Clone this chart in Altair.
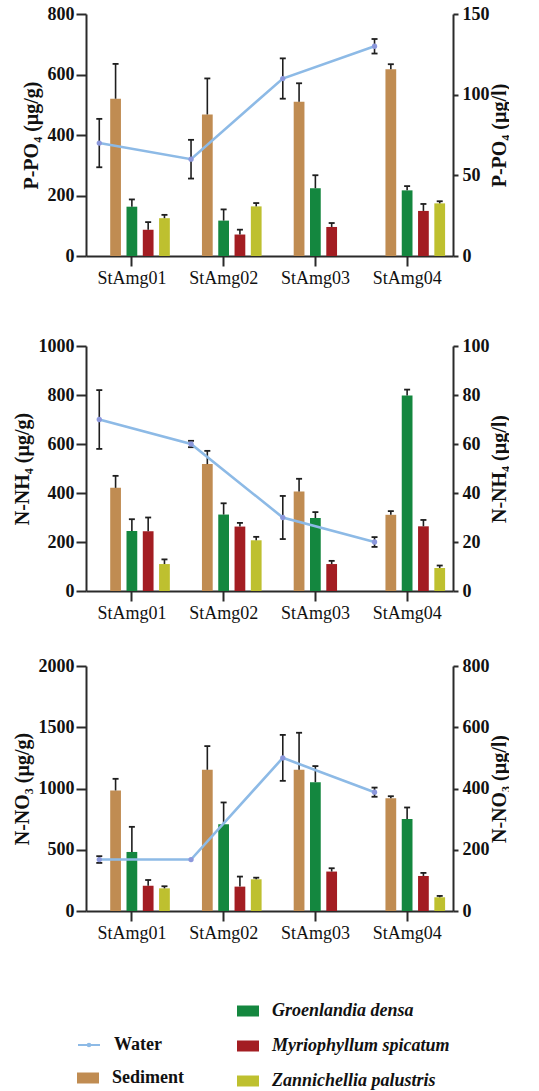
import altair as alt
import pandas as pd

stations = ["StAmg01", "StAmg02", "StAmg03", "StAmg04"]
slots = ["Water", "Sediment", "Groenlandia densa", "Myriophyllum spicatum", "Zannichellia palustris"]
species = ["Groenlandia densa", "Myriophyllum spicatum", "Zannichellia palustris"]

# P-PO4
po4_water = [70, 60, 110, 130]
po4_water_sd = [15, 12, 12.5, 4.5]
po4_sediment = [520, 468, 510, 617]
po4_sediment_sd = [115, 119, 61, 17]
po4_groenlandia = [163, 117, 224, 217]
po4_groenlandia_sd = [24, 37, 43, 14]
po4_myriophyllum = [87, 71, 96, 149]
po4_myriophyllum_sd = [25, 16, 13, 23]
po4_zannichellia = [125, 164, None, 174]
po4_zannichellia_sd = [11, 11, None, 7]

# N-NH4
nh4_water = [70, 60, 30, 20]
nh4_water_sd = [12, 1.3, 8.8, 2]
nh4_sediment = [421, 518, 406, 311]
nh4_sediment_sd = [49, 54, 52, 15]
nh4_groenlandia = [245, 312, 298, 798]
nh4_groenlandia_sd = [48, 46, 24, 24]
nh4_myriophyllum = [244, 263, 110, 264]
nh4_myriophyllum_sd = [56, 15, 13, 26]
nh4_zannichellia = [110, 207, None, 94]
nh4_zannichellia_sd = [19, 14, None, 10]

# N-NO3
no3_water = [168, 168, 500, 388]
no3_water_sd = [11, 0, 75, 15]
no3_sediment = [984, 1153, 1153, 921]
no3_sediment_sd = [95, 193, 302, 16]
no3_groenlandia = [482, 708, 1052, 752]
no3_groenlandia_sd = [205, 178, 131, 93]
no3_myriophyllum = [207, 199, 322, 286]
no3_myriophyllum_sd = [46, 82, 27, 25]
no3_zannichellia = [185, 259, None, 112]
no3_zannichellia_sd = [17, 13, None, 11]

panels = {
    "po4": [(po4_water, po4_water_sd), (po4_sediment, po4_sediment_sd),
            (po4_groenlandia, po4_groenlandia_sd), (po4_myriophyllum, po4_myriophyllum_sd),
            (po4_zannichellia, po4_zannichellia_sd)],
    "nh4": [(nh4_water, nh4_water_sd), (nh4_sediment, nh4_sediment_sd),
            (nh4_groenlandia, nh4_groenlandia_sd), (nh4_myriophyllum, nh4_myriophyllum_sd),
            (nh4_zannichellia, nh4_zannichellia_sd)],
    "no3": [(no3_water, no3_water_sd), (no3_sediment, no3_sediment_sd),
            (no3_groenlandia, no3_groenlandia_sd), (no3_myriophyllum, no3_myriophyllum_sd),
            (no3_zannichellia, no3_zannichellia_sd)],
}

rows = []
for key, series_list in panels.items():
    for name, (vals, sds) in zip(slots, series_list):
        for st, v, s in zip(stations, vals, sds):
            if v is None:
                continue
            rows.append(dict(panel=key, station=st, series=name, value=v, sd=s,
                             top=v + s, low=v - s))
df = pd.DataFrame(rows)

C_SED = "#C08C52"
C_SPC = ["#14873F", "#A31D22", "#BEC02F"]
C_WATER = "#8DBAE6"
C_PT = "#8C98DC"
AX = "#2a2a2a"
EC = "#1e1e1e"
F = "Liberation Serif"

RECT = "M-1,-0.5L1,-0.5L1,0.5L-1,0.5Z"
WPATH = "M-1,0L1,0M-0.12,0A0.12,0.12 0 1,0 0.12,0A0.12,0.12 0 1,0 -0.12,0"

leg_water = alt.Legend(orient="none", legendX=-9, legendY=1019, title=None,
                       symbolType=WPATH, symbolSize=484, symbolStrokeWidth=2,
                       symbolFillColor=C_PT, labelFont=F, labelFontSize=18,
                       labelFontWeight="bold", labelColor="#111", labelOffset=13, padding=0)
leg_sed = alt.Legend(orient="none", legendX=-9, legendY=1053, title=None,
                     symbolType=RECT, symbolSize=484, symbolStrokeWidth=0, symbolOpacity=1,
                     labelFont=F, labelFontSize=18, labelFontWeight="bold",
                     labelColor="#111", labelOffset=13, padding=0)
leg_spc = alt.Legend(orient="none", legendX=151, legendY=986, title=None,
                     symbolType=RECT, symbolSize=484, symbolStrokeWidth=0, symbolOpacity=1,
                     labelFont=F, labelFontSize=18, labelFontWeight="bold",
                     labelFontStyle="italic", labelColor="#111", labelOffset=13,
                     rowPadding=15, padding=0, labelLimit=300)


def make_panel(key, ltitle, rtitle, lmax, lstep, rmax, rstep, h):
    d = df[df.panel == key]
    base = alt.Chart(d)
    x = alt.X("station:N", scale=alt.Scale(domain=stations, paddingInner=0, paddingOuter=0),
              axis=alt.Axis(title=None, labelAngle=0, labelFont=F, labelFontSize=18,
                            labelFontWeight="normal", tickSize=10, labelPadding=3))
    xo = alt.XOffset("series:N", scale=alt.Scale(domain=slots, paddingInner=0.34,
                                                  paddingOuter=0.485))
    lscale = alt.Scale(domain=[0, lmax], nice=False)
    laxis = alt.Axis(orient="left", values=list(range(0, lmax + 1, lstep)), title=ltitle,
                     format="d", labelFontSize=18, labelFontWeight="bold", tickSize=10,
                     labelPadding=2, titlePadding=6, titleFontSize=20, titleFontWeight="bold")
    rscale = alt.Scale(domain=[0, rmax], nice=False)
    raxis = alt.Axis(orient="right", values=list(range(0, rmax + 1, rstep)), title=rtitle,
                     format="d", labelFontSize=18, labelFontWeight="bold", tickSize=5,
                     labelPadding=4, titlePadding=20, titleFontSize=20, titleFontWeight="bold",
                     titleAngle=270)

    sed = base.transform_filter(alt.datum.series == "Sediment")
    spc = base.transform_filter(alt.FieldOneOfPredicate(field="series", oneOf=species))
    notw = base.transform_filter(alt.datum.series != "Water")
    wat = base.transform_filter(alt.datum.series == "Water")

    bar_sed = sed.mark_bar().encode(
        x=x, xOffset=xo, y=alt.Y("value:Q", scale=lscale, axis=laxis),
        color=alt.Color("series:N", scale=alt.Scale(domain=["Sediment"], range=[C_SED]),
                        legend=leg_sed))
    bar_spc = spc.mark_bar().encode(
        x=x, xOffset=xo, y=alt.Y("value:Q", scale=lscale, axis=laxis),
        fill=alt.Fill("series:N", scale=alt.Scale(domain=species, range=C_SPC),
                      legend=leg_spc))
    e_rule = notw.mark_rule(color=EC, strokeWidth=1.6).encode(
        x=x, xOffset=xo, y=alt.Y("value:Q", scale=lscale, axis=laxis), y2="top:Q")
    e_cap = notw.mark_tick(color=EC, thickness=1.8, size=6, opacity=1).encode(
        x=x, xOffset=xo, y=alt.Y("top:Q", scale=lscale, axis=laxis))
    left = alt.layer(bar_sed, bar_spc, e_rule, e_cap)

    watv = wat.transform_filter(alt.datum.sd > 0)
    w_rule = watv.mark_rule(color=EC, strokeWidth=1.6).encode(
        x=x, xOffset=xo, y=alt.Y("low:Q", scale=rscale, axis=raxis), y2="top:Q")
    w_cap1 = watv.mark_tick(color=EC, thickness=1.8, size=6, opacity=1).encode(
        x=x, xOffset=xo, y=alt.Y("top:Q", scale=rscale, axis=raxis))
    w_cap2 = watv.mark_tick(color=EC, thickness=1.8, size=6, opacity=1).encode(
        x=x, xOffset=xo, y=alt.Y("low:Q", scale=rscale, axis=raxis))
    w_line = wat.mark_line(strokeWidth=2.6).encode(
        x=x, xOffset=xo, y=alt.Y("value:Q", scale=rscale, axis=raxis),
        stroke=alt.Stroke("series:N", scale=alt.Scale(domain=["Water"], range=[C_WATER]),
                          legend=leg_water))
    w_pts = wat.mark_circle(size=28, color=C_PT, opacity=1).encode(
        x=x, xOffset=xo, y=alt.Y("value:Q", scale=rscale, axis=raxis))
    right = alt.layer(w_rule, w_cap1, w_cap2, w_line, w_pts)

    return alt.layer(left, right).resolve_scale(y="independent").properties(width=367, height=h)


p1 = make_panel("po4", "P-PO₄ (µg/g)", "P-PO₄ (µg/l)", 800, 200, 150, 50, 242)
p2 = make_panel("nh4", "N-NH₄ (µg/g)", "N-NH₄ (µg/l)", 1000, 200, 100, 20, 245)
p3 = make_panel("no3", "N-NO₃ (µg/g)", "N-NO₃ (µg/l)", 2000, 500, 800, 200, 245)

chart = alt.vconcat(p1, alt.vconcat(p2, p3, spacing=35), spacing=50).properties(
    padding={"left": 12, "top": 5, "right": 0, "bottom": 0}
).configure_view(stroke=None).configure_axis(
    grid=False, domainColor=AX, domainWidth=2, tickColor=AX, tickWidth=2,
    labelFont=F, titleFont=F, labelColor="#111", titleColor="#111"
)

chart.save("out.html", embed_options={"renderer": "svg", "actions": False})
